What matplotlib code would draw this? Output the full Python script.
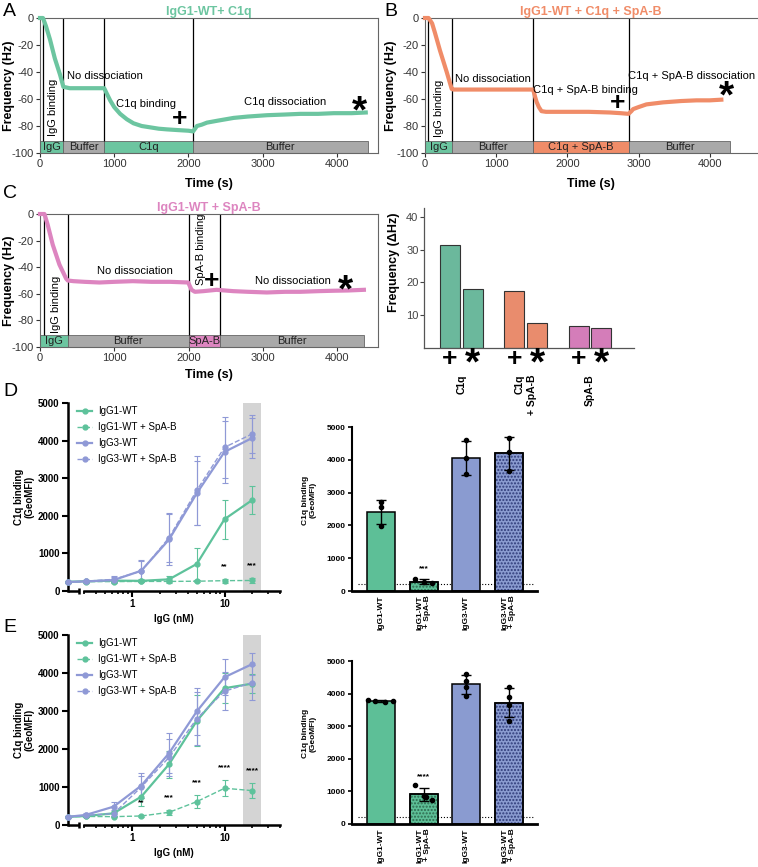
import numpy as np
import matplotlib
matplotlib.use("Agg")
import matplotlib.pyplot as plt
from matplotlib.lines import Line2D

plt.rcParams['font.family'] = ['Liberation Sans', 'DejaVu Sans']
plt.rcParams['axes.unicode_minus'] = False

# ---- QCM traces: time (s) and frequency shift (Hz)
a_time = [0, 40, 80, 135, 200, 270, 315, 400, 600, 865, 900, 945, 1000, 1080, 1170,
          1260, 1370, 1485, 1600, 1710, 1850, 2000, 2063, 2090, 2115, 2180, 2250,
          2400, 2610, 2800, 3060, 3300, 3510, 3750, 3960, 4200, 4390]
a_freq = [0, 0, -6, -16, -30, -42, -51, -52, -52, -52, -56, -61, -66, -71, -75,
          -78, -80, -81, -82, -82.5, -83, -83.5, -84, -82, -80, -79, -77.5,
          -76, -74, -73, -72, -71.5, -71, -71, -70.5, -70.5, -70]

b_time = [0, 50, 100, 140, 210, 305, 375, 400, 700, 1000, 1300, 1520, 1545, 1567,
          1600, 1637, 1700, 2000, 2300, 2600, 2750, 2860, 2900, 2924, 3000, 3111,
          3345, 3600, 3813, 4000, 4164]
b_freq = [0, 0, -4, -11, -24, -40, -52.5, -53, -53, -53, -53, -53, -58, -62,
          -66, -69, -69.5, -69.5, -69.5, -70, -70.5, -71, -69, -67.5, -66, -64,
          -62.5, -61.5, -61, -61, -60.5]

c_time = [0, 60, 103, 171, 261, 351, 374, 450, 600, 800, 1000, 1250, 1500, 1750,
          1995, 2015, 2040, 2085, 2200, 2378, 2600, 2800, 3054, 3300, 3505, 3750,
          3955, 4150, 4360]
c_freq = [0, 0, -8, -23, -38, -48.5, -50, -50.5, -51, -51.5, -51, -50.5, -51, -51,
          -51.5, -54, -57, -58.5, -58, -57, -58, -58.5, -59, -58.5, -58.5, -58,
          -57.7, -57.5, -57]

# injection phases: start, end, label
a_phases = [(0, 315, 'IgG'), (315, 865, 'Buffer'), (865, 2065, 'C1q'), (2065, 4415, 'Buffer')]
b_phases = [(0, 384, 'IgG'), (384, 1520, 'Buffer'), (1520, 2868, 'C1q + SpA-B'), (2868, 4290, 'Buffer')]
c_phases = [(0, 374, 'IgG'), (374, 2004, 'Buffer'), (2004, 2423, 'SpA-B'), (2423, 4360, 'Buffer')]
a_marks = [36, 315, 865, 2065]
b_marks = [37, 384, 1520, 2868]
c_marks = [58, 374, 2004, 2423]

# ---- frequency change summary
qcm_groups = ['C1q', 'C1q\n+ SpA-B', 'SpA-B']
delta_plus = [31.4, 17.4, 6.6]
delta_star = [17.9, 7.6, 6.1]

# ---- C1q binding dose response (GeoMFI), 0 = no IgG
conc = [0, 0.3125, 0.625, 1.25, 2.5, 5, 10, 20]
series_names = ['IgG1-WT', 'IgG1-WT + SpA-B', 'IgG3-WT', 'IgG3-WT + SpA-B']

d_igg1 = [245, 260, 275, 270, 310, 720, 1910, 2420]
d_igg1_err = [20, 30, 30, 40, 100, 420, 520, 370]
d_igg1_spa = [240, 250, 250, 255, 255, 260, 275, 280]
d_igg1_spa_err = [10, 15, 15, 20, 20, 30, 50, 60]
d_igg3 = [240, 255, 290, 540, 1370, 2600, 3700, 4070]
d_igg3_err = [15, 40, 80, 290, 680, 850, 820, 540]
d_igg3_spa = [240, 260, 310, 530, 1420, 2680, 3820, 4180]
d_igg3_spa_err = [15, 40, 90, 270, 650, 920, 810, 510]
d_stars = ['', '', '', '', '', '', '**', '***']

e_igg1 = [215, 237, 307, 747, 1600, 2740, 3600, 3720]
e_igg1_err = [15, 30, 70, 250, 350, 670, 400, 250]
e_igg1_spa = [215, 225, 220, 237, 334, 615, 967, 905]
e_igg1_spa_err = [10, 15, 15, 30, 60, 175, 205, 190]
e_igg3 = [215, 265, 483, 1037, 1890, 2990, 3890, 4235]
e_igg3_err = [15, 40, 130, 330, 530, 610, 470, 300]
e_igg3_spa = [215, 255, 300, 1000, 1780, 2800, 3520, 3750]
e_igg3_spa_err = [15, 35, 90, 300, 480, 700, 500, 470]
e_stars = ['', '', '', '**', '***', '***', '****', '****']

# ---- C1q binding at 20 nM, individual replicates
bar_labels = ['IgG1-WT', 'IgG1-WT\n+ SpA-B', 'IgG3-WT', 'IgG3-WT\n+ SpA-B']
d_points = [[2700, 2550, 1990], [366, 265, 235], [4600, 4040, 3560], [4670, 4250, 3670]]
e_points = [[3800, 3760, 3730, 3760], [1190, 870, 820, 740],
            [4590, 4400, 4200, 3935], [4200, 3890, 3640, 3160]]
d_bar_star = ['', '***', '', '']
e_bar_star = ['', '****', '', '']
d_background = 210
e_background = 200

GREEN = '#6cc5a0'
ORANGE = '#f08c68'
PINK = '#dd85c0'
GRAY = '#a9a9a9'
LGREEN = '#5ec29b'
LPURPLE = '#8f99d6'
BGREEN = '#5dbf97'
BPURPLE = '#8a9bd0'

fig = plt.figure(figsize=(7.58, 8.67), dpi=100)


def px_axes(x0, y0, x1, y1):
    W, H = 758.0, 867.0
    return fig.add_axes([x0 / W, 1 - y1 / H, (x1 - x0) / W, (y1 - y0) / H])


def qcm_panel(ax, t, f, color, title, phases, phase_cols, marks, xmax, ylab_x):
    for (s0, s1, lab), c in zip(phases, phase_cols):
        ax.bar(s0, 9, width=s1 - s0, bottom=-100, align='edge', color=c,
               edgecolor='#666666', linewidth=0.6, zorder=1)
        ax.text((s0 + s1) / 2, -95.6, lab, ha='center', va='center', fontsize=8,
                color='#222222', zorder=2)
    ax.vlines(marks, -91, 0, colors='k', linewidth=0.9, zorder=2)
    ax.plot(t, f, color=color, lw=3, zorder=3, clip_on=False, solid_joinstyle='round')
    ax.set_xlim(0, xmax)
    ax.set_ylim(-100, 0)
    ax.set_xticks([0, 1000, 2000, 3000, 4000])
    ax.set_yticks(range(-100, 1, 20))
    ax.tick_params(labelsize=8, colors='#333333', length=3, width=0.8, pad=1.5)
    for sp in ax.spines.values():
        sp.set_color('#666666')
        sp.set_linewidth(0.8)
    ax.set_xlabel('Time (s)', fontsize=9, fontweight='bold', labelpad=6)
    ax.set_ylabel('Frequency (Hz)', fontsize=9, fontweight='bold')
    ax.yaxis.set_label_coords(ylab_x, 0.5)
    ax.set_title(title, fontsize=9, fontweight='bold', color=color, pad=2)


def mark(ax, x, y, sym):
    if sym == '+':
        ax.text(x, y, '+', fontsize=19, fontweight='bold', ha='center', va='center', zorder=5)
    else:
        ax.text(x, y, '*', fontsize=28, fontweight='bold', ha='center', va='center', zorder=5)


# ---------------- A
ax = px_axes(40, 18, 378, 153)
qcm_panel(ax, a_time, a_freq, GREEN, 'IgG1-WT+ C1q', a_phases,
          [GREEN, GRAY, GREEN, GRAY], a_marks, 4555, -0.074)
ax.text(175, -66, 'IgG binding', rotation=90, ha='center', va='center', fontsize=8)
ax.text(360, -43, 'No dissociation', ha='left', va='center', fontsize=8)
ax.text(1427, -63.5, 'C1q binding', ha='center', va='center', fontsize=8)
ax.text(3308, -62.5, 'C1q dissociation', ha='center', va='center', fontsize=8)
mark(ax, 1879, -75, '+')
mark(ax, 4301, -70, '*')

# ---------------- B
ax = px_axes(425, 18, 757, 153)
qcm_panel(ax, b_time, b_freq, ORANGE, 'IgG1-WT + C1q + SpA-B', b_phases,
          [GREEN, GRAY, ORANGE, GRAY], b_marks, 4665, -0.084)
ax.spines['right'].set_visible(False)
ax.text(190, -67, 'IgG binding', rotation=90, ha='center', va='center', fontsize=8)
ax.text(950, -45.5, 'No dissociation', ha='center', va='center', fontsize=8)
ax.text(2250, -53.2, 'C1q + SpA-B binding', ha='center', va='center', fontsize=8)
ax.text(3743, -43, 'C1q + SpA-B dissociation', ha='center', va='center', fontsize=8)
mark(ax, 2713, -63, '+')
mark(ax, 4234, -59, '*')

# ---------------- C
ax = px_axes(40, 214, 378, 347)
qcm_panel(ax, c_time, c_freq, PINK, 'IgG1-WT + SpA-B', c_phases,
          [GREEN, GRAY, PINK, GRAY], c_marks, 4550, -0.074)
ax.xaxis.labelpad = 4
ax.text(216, -68, 'IgG binding', rotation=90, ha='center', va='center', fontsize=8)
ax.text(1275, -43, 'No dissociation', ha='center', va='center', fontsize=8)
ax.text(2167, -26.5, 'SpA-B binding', rotation=90, ha='center', va='center', fontsize=8)
ax.text(3405, -50, 'No dissociation', ha='center', va='center', fontsize=8)
mark(ax, 2311, -50, '+')
mark(ax, 4113, -58, '*')

# ---------------- delta frequency bars
ax = px_axes(424, 208, 634, 348)
gx = np.arange(len(qcm_groups))
off, w = 0.175, 0.31
bar_cols = ['#6bb89c', '#e98c6d', '#d47db9']
ax.bar(gx - off, delta_plus, w, color=bar_cols, edgecolor='#333333', linewidth=0.8)
ax.bar(gx + off, delta_star, w, color=bar_cols, edgecolor='#333333', linewidth=0.8)
ax.set_xlim(-0.578, 2.68)
ax.set_ylim(0, 42.7)
ax.set_yticks([10, 20, 30, 40])
ax.set_xticks([])
ax.spines[['top', 'right']].set_visible(False)
for sp in ax.spines.values():
    sp.set_color('#555555')
    sp.set_linewidth(0.9)
ax.tick_params(labelsize=8, colors='#444444', length=3, width=0.8, pad=1)
ax.set_ylabel('Frequency (\u0394Hz)', fontsize=9, fontweight='bold')
ax.yaxis.set_label_coords(-0.112, 0.61)
tr = ax.get_xaxis_transform()
for i, g in enumerate(qcm_groups):
    ax.text(i - off, -0.08, '+', transform=tr, fontsize=19, fontweight='bold',
            ha='center', va='center', clip_on=False)
    ax.text(i + off, -0.115, '*', transform=tr, fontsize=28, fontweight='bold',
            ha='center', va='center', clip_on=False)
    ax.text(i, -0.19, g, transform=tr, rotation=90, ha='center', va='top',
            multialignment='right', fontsize=7.5, fontweight='bold', clip_on=False)


# ---------------- dose response panels
def dose_panel(ax, data, stars):
    xs = [0.2 if c == 0 else c for c in conc]
    styles = [(LGREEN, '-', 1.6), (LGREEN, '--', 1.0), (LPURPLE, '-', 1.6), (LPURPLE, '--', 1.0)]
    handles = []
    for (vals, errs), name, (col, ls, lw) in zip(data, series_names, styles):
        ax.errorbar(xs, vals, yerr=errs, color=col, ls=ls, lw=lw, marker='o', ms=3.5,
                    elinewidth=0.8, capsize=2.5, capthick=0.8, clip_on=False, zorder=3)
        handles.append(Line2D([], [], color=col, ls=ls, lw=lw, marker='o', ms=3.5))
    spa_vals, spa_errs = data[1]
    for x, v, e, s in zip(xs, spa_vals, spa_errs, stars):
        if s:
            ax.text(x, v + e + 230, s, ha='center', va='bottom', fontsize=6, fontweight='bold')
    ax.axvspan(16, 25, color='#d4d4d4', zorder=0, lw=0)
    ax.set_xscale('log')
    ax.set_xlim(0.2, 40)
    ax.set_ylim(0, 5000)
    ax.set_xticks([1, 10], ['1', '10'])
    ax.set_xticks([0.3, 0.4, 0.5, 0.6, 0.7, 0.8, 0.9, 2, 3, 4, 5, 6, 7, 8, 9, 20, 30, 40],
                  minor=True)
    ax.set_yticks(range(0, 5001, 1000))
    ax.spines[['top', 'right']].set_visible(False)
    for sp in ax.spines.values():
        sp.set_linewidth(1.8)
    ax.spines['bottom'].set_bounds(0.3, 40)
    xtr = ax.get_xaxis_transform()
    ax.plot([0.2, 0.262], [0, 0], transform=xtr, color='k', lw=1.8, clip_on=False,
            solid_capstyle='butt')
    ax.plot([0.262], [0], transform=xtr, marker='|', ms=5, mew=1.8, color='k', clip_on=False)
    ax.tick_params(which='major', labelsize=7, length=4, width=1.5, pad=2)
    ax.tick_params(which='minor', length=2.5, width=1.2)
    for lab in ax.get_xticklabels() + ax.get_yticklabels():
        lab.set_fontweight('bold')
    ax.set_xlabel('IgG (nM)', fontsize=7, fontweight='bold', labelpad=3)
    ax.set_ylabel('C1q binding\n(GeoMFI)', fontsize=7, fontweight='bold', linespacing=1.1)
    ax.yaxis.set_label_coords(-0.158, 0.5)
    ax.legend(handles, series_names, loc='upper left', bbox_to_anchor=(0.0, 1.03),
              frameon=False, fontsize=7, handlelength=1.6, labelspacing=0.62,
              handletextpad=0.6)


def bar_panel(ax, points, stars, background, jitter):
    xs = np.arange(len(points))
    means = [np.mean(p) for p in points]
    sds = [np.std(p, ddof=1) for p in points]
    cols = [BGREEN, BGREEN, BPURPLE, BPURPLE]
    hatch_cols = [None, '#2f6b50', None, '#2e3a78']
    for i in xs:
        ax.bar(i, means[i], 0.66, color=cols[i], edgecolor='k', linewidth=1.1, zorder=2)
        if hatch_cols[i]:
            ax.bar(i, means[i], 0.66, color='none', edgecolor=hatch_cols[i], hatch='.....',
                   linewidth=0, zorder=2.5)
            ax.bar(i, means[i], 0.66, color='none', edgecolor='k', linewidth=1.1, zorder=2.6)
        ax.scatter(i + np.array(jitter[i]), points[i], s=9, color='k', zorder=5)
        if stars[i]:
            ax.text(i, means[i] + sds[i] + 230, stars[i], ha='center', va='bottom',
                    fontsize=6, fontweight='bold')
    ax.errorbar(xs, means, yerr=sds, fmt='none', ecolor='k', elinewidth=1, capsize=3.5,
                capthick=1, zorder=4)
    ax.axhline(background, xmin=0.03, xmax=0.98, color='k', ls=':', lw=0.8, zorder=1)
    ax.set_xlim(-0.68, 3.66)
    ax.set_ylim(0, 5000)
    ax.set_yticks(range(0, 5001, 1000))
    ax.set_xticks(xs)
    ax.set_xticklabels(bar_labels, rotation=90, ha='center', va='top',
                       multialignment='right', fontsize=6, fontweight='bold')
    ax.spines[['top', 'right']].set_visible(False)
    ax.spines['left'].set_linewidth(1.5)
    ax.spines['bottom'].set_linewidth(2)
    ax.tick_params(axis='x', length=0, pad=3)
    ax.tick_params(axis='y', labelsize=6, length=3, width=1.2, pad=1.5)
    for lab in ax.get_yticklabels():
        lab.set_fontweight('bold')
    ax.set_ylabel('C1q binding\n(GeoMFI)', fontsize=6, fontweight='bold', linespacing=1.1)
    ax.yaxis.set_label_coords(-0.19, 0.555)


ax = px_axes(68, 403, 280, 591)
dose_panel(ax, [(d_igg1, d_igg1_err), (d_igg1_spa, d_igg1_spa_err),
                (d_igg3, d_igg3_err), (d_igg3_spa, d_igg3_spa_err)], d_stars)
ax = px_axes(352, 427, 537, 591)
bar_panel(ax, d_points, d_bar_star, d_background,
          [[0, 0, 0], [-0.2, 0, 0.2], [0, 0, 0], [0, 0, 0]])

ax = px_axes(68, 635, 280, 825)
dose_panel(ax, [(e_igg1, e_igg1_err), (e_igg1_spa, e_igg1_spa_err),
                (e_igg3, e_igg3_err), (e_igg3_spa, e_igg3_spa_err)], e_stars)
ax = px_axes(352, 661, 537, 824)
bar_panel(ax, e_points, e_bar_star, e_background,
          [[-0.3, -0.15, 0.1, 0.28], [-0.2, 0, 0.05, 0.2], [0, 0, 0, 0], [0, 0, 0, 0]])

for lab, x, y in [('A', 3, 3), ('B', 384, 3), ('C', 3, 185), ('D', 3, 383), ('E', 3, 619)]:
    fig.text(x / 758, 1 - y / 867, lab, fontsize=14, va='top', ha='left')

fig.savefig('out.png', dpi=100)
